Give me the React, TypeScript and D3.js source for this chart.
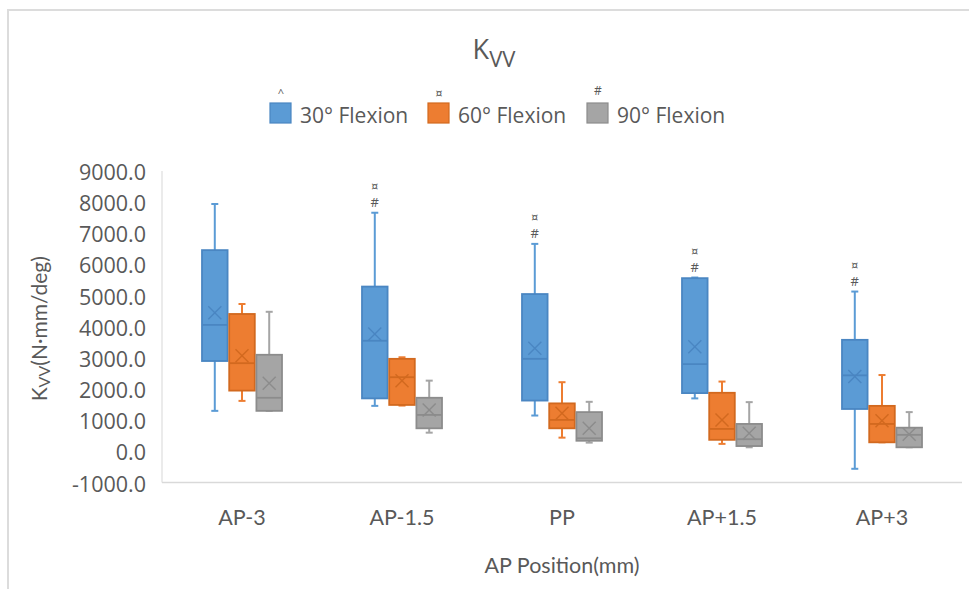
import React from "react";
import * as d3 from "d3";

// Categories along the x axis
const categories = ["AP-3", "AP-1.5", "PP", "AP+1.5", "AP+3"];

// Series names
const seriesNames = ["30° Flexion", "60° Flexion", "90° Flexion"];
const seriesMarks = ["^", "¤", "#"];

// Five-number summaries plus mean, one array per statistic, per series
const flex30Min = [1300, 1460, 1150, 1700, -560];
const flex30Q1 = [2900, 1700, 1630, 1870, 1360];
const flex30Median = [4060, 3550, 2970, 2800, 2440];
const flex30Mean = [4450, 3770, 3310, 3360, 2400];
const flex30Q3 = [6460, 5290, 5050, 5560, 3580];
const flex30Max = [7940, 7660, 6660, 5580, 5130];

const flex60Min = [1620, 1470, 440, 240, 290];
const flex60Q1 = [1950, 1490, 740, 370, 290];
const flex60Median = [2830, 2380, 1010, 720, 880];
const flex60Mean = [3070, 2270, 1220, 1010, 980];
const flex60Q3 = [4410, 2970, 1540, 1880, 1460];
const flex60Max = [4730, 3020, 2220, 2240, 2450];

const flex90Min = [1300, 600, 280, 130, 130];
const flex90Q1 = [1300, 740, 340, 170, 130];
const flex90Median = [1720, 1170, 420, 390, 530];
const flex90Mean = [2190, 1330, 740, 580, 550];
const flex90Q3 = [3100, 1720, 1260, 880, 760];
const flex90Max = [4480, 2270, 1590, 1580, 1260];

// Significance markers drawn above the 30° whiskers
const sigTop = ["", "¤", "¤", "¤", "¤"];
const sigBottom = ["", "#", "#", "#", "#"];

// Y tick values
const yTicks = [-1000, 0, 1000, 2000, 3000, 4000, 5000, 6000, 7000, 8000, 9000];

const fills = ["#5B9BD5", "#ED7D31", "#A5A5A5"];
const strokes = ["#4A86C2", "#D2691F", "#8C8C8C"];

const series = [
  { min: flex30Min, q1: flex30Q1, med: flex30Median, mean: flex30Mean, q3: flex30Q3, max: flex30Max },
  { min: flex60Min, q1: flex60Q1, med: flex60Median, mean: flex60Mean, q3: flex60Q3, max: flex60Max },
  { min: flex90Min, q1: flex90Q1, med: flex90Median, mean: flex90Mean, q3: flex90Q3, max: flex90Max },
];

const W = 969;
const H = 589;
const textColor = "#595959";

export default function App() {
  const x = d3.scaleBand<string>().domain(categories).range([162, 962]);
  const inner = d3
    .scaleBand<string>()
    .domain(seriesNames)
    .range([-40, 40])
    .paddingInner(0.06);
  const y = d3.scaleLinear().domain([-1000, 9000]).range([482.5, 171]);

  const plotLeft = 162;
  const plotRight = 962;
  const bw = inner.bandwidth();
  const capHalf = 3.5;
  const xHalf = 6.5;

  return (
    <svg
      width={W}
      height={H}
      style={{ position: "absolute", left: 0, top: 0, background: "#fff" }}
    >
      {/* chart frame */}
      <rect x={8} y={10} width={1200} height={1200} fill="none" stroke="#dcdcdc" strokeWidth={2} />

      {/* title */}
      <text x={494} y={59} fill={textColor} fontFamily="Open Sans" fontSize={27} textAnchor="middle">
        <tspan>K</tspan>
        <tspan fontSize={22} dy={8}>VV</tspan>
      </text>

      {/* legend */}
      {seriesNames.map((name, i) => {
        const lx = [270, 428, 587][i];
        return (
          <g key={name}>
            <rect x={lx} y={103} width={21} height={20} fill={fills[i]} stroke={strokes[i]} strokeWidth={1.2} />
            <text
              x={lx + 11}
              y={i === 2 ? 95 : 97}
              fill={textColor}
              fontFamily={i === 1 ? "DejaVu Sans" : "Open Sans"}
              fontSize={i === 2 ? 12 : 11}
              textAnchor="middle"
            >
              {seriesMarks[i]}
            </text>
            <text x={lx + 30} y={123} fill={textColor} fontFamily="Open Sans" fontSize={21}>
              {name}
            </text>
          </g>
        );
      })}

      {/* axis lines */}
      <line x1={plotLeft} x2={plotLeft} y1={y(9000)} y2={y(-1000)} stroke="#dedede" strokeWidth={1.2} />
      <line x1={plotLeft} x2={plotRight} y1={y(-1000)} y2={y(-1000)} stroke="#d9d9d9" strokeWidth={1.5} />

      {/* y tick labels */}
      {yTicks.map((t) => (
        <text
          key={t}
          x={146}
          y={y(t) + 9}
          fill={textColor}
          fontFamily="Open Sans"
          fontSize={21.5}
          textAnchor="end"
        >
          {t.toFixed(1)}
        </text>
      ))}

      {/* y axis title */}
      <text
        transform={`translate(47, ${(y(9000) + y(-1000)) / 2 + 2}) rotate(-90)`}
        fill={textColor}
        fontFamily="Lato"
        fontSize={21}
        textAnchor="middle"
      >
        <tspan>K</tspan>
        <tspan fontSize={16} dy={3}>VV</tspan>
        <tspan dy={-3}>(N·mm/deg)</tspan>
      </text>

      {/* category labels */}
      {categories.map((c) => (
        <text
          key={c}
          x={(x(c) as number) + x.bandwidth() / 2}
          y={525}
          fill={textColor}
          fontFamily="Lato"
          fontSize={21.5}
          textAnchor="middle"
        >
          {c}
        </text>
      ))}

      {/* x axis title */}
      <text x={(plotLeft + plotRight) / 2} y={573} fill={textColor} fontFamily="Lato" fontSize={21.5} textAnchor="middle">
        AP Position(mm)
      </text>

      {/* boxes */}
      {categories.map((c, ci) => {
        const cx = (x(c) as number) + x.bandwidth() / 2;
        return (
          <g key={c}>
            {series.map((s, si) => {
              const left = cx + (inner(seriesNames[si]) as number);
              const mid = left + bw / 2;
              const yMin = y(s.min[ci]);
              const yMax = y(s.max[ci]);
              const yQ1 = y(s.q1[ci]);
              const yQ3 = y(s.q3[ci]);
              const yMed = y(s.med[ci]);
              const yMean = y(s.mean[ci]);
              return (
                <g key={si}>
                  <line x1={mid} x2={mid} y1={yMax} y2={yQ3} stroke={fills[si]} strokeWidth={2} />
                  <line x1={mid} x2={mid} y1={yQ1} y2={yMin} stroke={fills[si]} strokeWidth={2} />
                  <line x1={mid - capHalf} x2={mid + capHalf} y1={yMax} y2={yMax} stroke={fills[si]} strokeWidth={2} />
                  <line x1={mid - capHalf} x2={mid + capHalf} y1={yMin} y2={yMin} stroke={fills[si]} strokeWidth={2} />
                  <rect
                    x={left}
                    y={yQ3}
                    width={bw}
                    height={yQ1 - yQ3}
                    fill={fills[si]}
                    stroke={strokes[si]}
                    strokeWidth={1.8}
                  />
                  <line x1={left} x2={left + bw} y1={yMed} y2={yMed} stroke={strokes[si]} strokeWidth={1.8} />
                  <line x1={mid - xHalf} x2={mid + xHalf} y1={yMean - xHalf} y2={yMean + xHalf} stroke={strokes[si]} strokeWidth={1.4} />
                  <line x1={mid - xHalf} x2={mid + xHalf} y1={yMean + xHalf} y2={yMean - xHalf} stroke={strokes[si]} strokeWidth={1.4} />
                </g>
              );
            })}
            {sigTop[ci] && (
              <g>
                {(() => {
                  const mid = cx + (inner(seriesNames[0]) as number) + bw / 2;
                  const top = y(series[0].max[ci]);
                  return (
                    <>
                      <text x={mid} y={top - 23} fill={textColor} fontFamily="DejaVu Sans" fontSize={11} textAnchor="middle">
                        {sigTop[ci]}
                      </text>
                      <text x={mid} y={top - 6} fill={textColor} fontFamily="Open Sans" fontSize={13} textAnchor="middle">
                        {sigBottom[ci]}
                      </text>
                    </>
                  );
                })()}
              </g>
            )}
          </g>
        );
      })}
    </svg>
  );
}
